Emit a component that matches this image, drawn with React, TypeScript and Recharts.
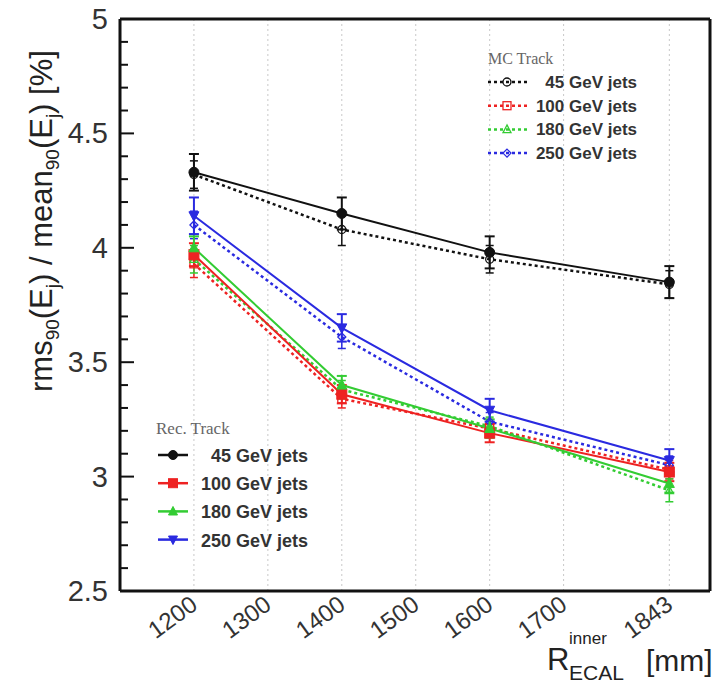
import React from 'react'
import { LineChart, Line, XAxis, YAxis, CartesianGrid, ErrorBar, ReferenceLine } from 'recharts'

const radii = [1200, 1400, 1600, 1843]
const xTicks = [1200, 1300, 1400, 1500, 1600, 1700, 1843]
const yTicks = [2.5, 2.6, 2.7, 2.8, 2.9, 3, 3.1, 3.2, 3.3, 3.4, 3.5, 3.6, 3.7, 3.8, 3.9, 4, 4.1, 4.2, 4.3, 4.4, 4.5, 4.6, 4.7, 4.8, 4.9, 5]
const yLabels = [2.5, 3, 3.5, 4, 4.5, 5]

// Rec. Track (solid)
const rec45 = [4.33, 4.15, 3.98, 3.85]
const rec100 = [3.97, 3.36, 3.19, 3.02]
const rec180 = [4.0, 3.4, 3.21, 2.97]
const rec250 = [4.14, 3.65, 3.29, 3.07]
const recErr45 = [0.08, 0.07, 0.07, 0.07]
const recErr100 = [0.05, 0.04, 0.04, 0.04]
const recErr180 = [0.05, 0.04, 0.04, 0.04]
const recErr250 = [0.08, 0.06, 0.05, 0.05]

// MC Track (dotted)
const mc45 = [4.32, 4.08, 3.95, 3.84]
const mc100 = [3.93, 3.34, 3.21, 3.03]
const mc180 = [3.95, 3.38, 3.22, 2.94]
const mc250 = [4.1, 3.61, 3.24, 3.05]
const mcErr45 = [0.06, 0.07, 0.06, 0.06]
const mcErr100 = [0.06, 0.04, 0.04, 0.04]
const mcErr180 = [0.06, 0.04, 0.04, 0.05]
const mcErr250 = [0.06, 0.05, 0.04, 0.04]

const BLACK = '#111'
const RED = '#ee2222'
const GREEN = '#33cc33'
const BLUE = '#2a2ae0'

const data = radii.map((r, i) => ({
  r,
  rec45: rec45[i], rec45e: recErr45[i],
  rec100: rec100[i], rec100e: recErr100[i],
  rec180: rec180[i], rec180e: recErr180[i],
  rec250: rec250[i], rec250e: recErr250[i],
  mc45: mc45[i], mc45e: mcErr45[i],
  mc100: mc100[i], mc100e: mcErr100[i],
  mc180: mc180[i], mc180e: mcErr180[i],
  mc250: mc250[i], mc250e: mcErr250[i],
}))

type Shape = 'circle' | 'square' | 'up' | 'down' | 'diamond'

const Marker = ({ cx, cy, shape, color, filled, s }: { cx: number; cy: number; shape: Shape; color: string; filled: boolean; s: number }) => {
  const fill = filled ? color : 'none'
  const sw = filled ? 1 : 1.3
  if (shape === 'circle') return <circle cx={cx} cy={cy} r={s} fill={fill} stroke={color} strokeWidth={sw} />
  if (shape === 'square') return <rect x={cx - s} y={cy - s} width={2 * s} height={2 * s} fill={fill} stroke={color} strokeWidth={sw} />
  if (shape === 'up') return <polygon points={`${cx},${cy - s * 1.1} ${cx - s},${cy + s * 0.8} ${cx + s},${cy + s * 0.8}`} fill={fill} stroke={color} strokeWidth={sw} />
  if (shape === 'down') return <polygon points={`${cx},${cy + s * 1.1} ${cx - s},${cy - s * 0.8} ${cx + s},${cy - s * 0.8}`} fill={fill} stroke={color} strokeWidth={sw} />
  return <polygon points={`${cx},${cy - s} ${cx + s},${cy} ${cx},${cy + s} ${cx - s},${cy}`} fill={fill} stroke={color} strokeWidth={sw} />
}

const dotFor = (shape: Shape, color: string, filled: boolean, s: number) => (p: any) => (
  <Marker key={`d${p.index}`} cx={p.cx} cy={p.cy} shape={shape} color={color} filled={filled} s={s} />
)

const YTick = ({ x, y, payload, side }: any) => {
  const v = payload.value as number
  const major = Math.abs(v * 2 - Math.round(v * 2)) < 1e-6
  const dir = side === 'left' ? 1 : -1
  const len = major ? 14 : 8
  return (
    <g>
      <line x1={x} x2={x + dir * len} y1={y} y2={y} stroke="#111" strokeWidth={2} />
      {side === 'left' && yLabels.includes(v) && (
        <text x={x - 12} y={y + 10} textAnchor="end" fontSize={29} fill="#333" fontFamily="Liberation Sans, Arial, sans-serif">
          {String(v)}
        </text>
      )}
    </g>
  )
}

const XTick = ({ x, y, payload }: any) => {
  const ax = x + 5
  const ay = y + 17
  return (
    <text x={ax} y={ay} transform={`rotate(-36 ${ax} ${ay})`} textAnchor="end" fontSize={24} fill="#333" fontFamily="Liberation Sans, Arial, sans-serif">
      {payload.value}
    </text>
  )
}

const recSeries = [
  { key: 'rec45', color: BLACK, shape: 'circle' as Shape, label: '45 GeV jets' },
  { key: 'rec100', color: RED, shape: 'square' as Shape, label: '100 GeV jets' },
  { key: 'rec180', color: GREEN, shape: 'up' as Shape, label: '180 GeV jets' },
  { key: 'rec250', color: BLUE, shape: 'down' as Shape, label: '250 GeV jets' },
]
const mcSeries = [
  { key: 'mc45', color: BLACK, shape: 'circle' as Shape, label: '45 GeV jets' },
  { key: 'mc100', color: RED, shape: 'square' as Shape, label: '100 GeV jets' },
  { key: 'mc180', color: GREEN, shape: 'up' as Shape, label: '180 GeV jets' },
  { key: 'mc250', color: BLUE, shape: 'diamond' as Shape, label: '250 GeV jets' },
]

const font = 'Liberation Sans, Arial, sans-serif'

const Overlay = () => (
  <svg width={712} height={695} style={{ position: 'absolute', left: 0, top: 0, pointerEvents: 'none' }}>
    {/* y title */}
    <g transform="translate(52, 392) rotate(-90)" fontFamily={font} fill="#222" fontSize={31}>
      <text x={0} y={0}>
        rms<tspan fontSize={19} dy={7}>90</tspan>
        <tspan dy={-7}>(E</tspan>
        <tspan fontSize={19} dy={7}>j</tspan>
        <tspan dy={-7}>) / mean</tspan>
        <tspan fontSize={19} dy={7}>90</tspan>
        <tspan dy={-7}>(E</tspan>
        <tspan fontSize={19} dy={7}>j</tspan>
        <tspan dy={-7}>) [%]</tspan>
      </text>
    </g>
    {/* x title */}
    <g fontFamily={font} fill="#222">
      <text x={547} y={670} fontSize={31}>R</text>
      <text x={569} y={644} fontSize={17}>inner</text>
      <text x={569} y={680} fontSize={21}>ECAL</text>
      <text x={646} y={671} fontSize={30}>[mm]</text>
    </g>
    {/* MC legend */}
    <text x={488} y={64} fontSize={16} fill="#666" fontFamily="Liberation Serif, Times New Roman, serif">MC Track</text>
    {mcSeries.map((s, i) => {
      const y = 82 + i * 23.7
      return (
        <g key={s.key}>
          <line x1={488} x2={527} y1={y} y2={y} stroke={s.color} strokeWidth={2.5} strokeDasharray="3 3" />
          <Marker cx={507} cy={y} shape={s.shape} color={s.color} filled={false} s={4} />
          <text x={637} y={y + 6} textAnchor="end" fontSize={17} fontWeight="bold" fill="#333" fontFamily={font}>{s.label}</text>
        </g>
      )
    })}
    {/* Rec legend */}
    <text x={156} y={434} fontSize={17} fill="#666" fontFamily="Liberation Serif, Times New Roman, serif">Rec. Track</text>
    {recSeries.map((s, i) => {
      const y = 455 + i * 28.2
      return (
        <g key={s.key}>
          <line x1={158} x2={188} y1={y} y2={y} stroke={s.color} strokeWidth={2.5} />
          <Marker cx={173} cy={y} shape={s.shape} color={s.color} filled s={4.5} />
          <text x={308} y={y + 7} textAnchor="end" fontSize={18} fontWeight="bold" fill="#333" fontFamily={font}>{s.label}</text>
        </g>
      )
    })}
  </svg>
)

export default function App() {
  return (
    <div style={{ position: 'absolute', left: 0, top: 0, width: 712, height: 695, background: '#fff' }}>
      <LineChart width={712} height={695} data={data} margin={{ top: 19, right: 0, bottom: 0, left: 0 }}>
        <CartesianGrid horizontal={false} stroke="#c8c8c8" strokeDasharray="2 3" />
        <XAxis
          dataKey="r"
          type="number"
          domain={[1100, 1898]}
          ticks={xTicks}
          height={104}
          tickSize={0}
          tickMargin={0}
          tickLine={false}
          axisLine={{ stroke: '#111', strokeWidth: 3 }}
          tick={<XTick />}
          interval={0}
        />
        <YAxis
          yAxisId="l"
          orientation="left"
          type="number"
          domain={[2.5, 5]}
          ticks={yTicks}
          width={120}
          tickSize={0}
          tickMargin={0}
          tickLine={false}
          axisLine={{ stroke: '#111', strokeWidth: 3 }}
          tick={<YTick side="left" />}
          interval={0}
        />
        <YAxis
          yAxisId="r"
          orientation="right"
          type="number"
          domain={[2.5, 5]}
          ticks={yTicks}
          width={2}
          tickSize={0}
          tickMargin={0}
          tickLine={false}
          axisLine={{ stroke: '#111', strokeWidth: 3 }}
          tick={<YTick side="right" />}
          interval={0}
        />
        <ReferenceLine yAxisId="l" y={5} stroke="#111" strokeWidth={3} />
        {mcSeries.map((s) => (
          <Line
            key={s.key}
            yAxisId="l"
            type="linear"
            dataKey={s.key}
            stroke={s.color}
            strokeWidth={2.5}
            strokeDasharray="3 3"
            dot={dotFor(s.shape, s.color, false, 4)}
            activeDot={false}
            isAnimationActive={false}
          >
            <ErrorBar dataKey={`${s.key}e`} direction="y" width={4} stroke={s.color} strokeWidth={1.5} />
          </Line>
        ))}
        {recSeries.map((s) => (
          <Line
            key={s.key}
            yAxisId="l"
            type="linear"
            dataKey={s.key}
            stroke={s.color}
            strokeWidth={2}
            dot={dotFor(s.shape, s.color, true, 5)}
            activeDot={false}
            isAnimationActive={false}
          >
            <ErrorBar dataKey={`${s.key}e`} direction="y" width={5} stroke={s.color} strokeWidth={2} />
          </Line>
        ))}
      </LineChart>
      <Overlay />
    </div>
  )
}
